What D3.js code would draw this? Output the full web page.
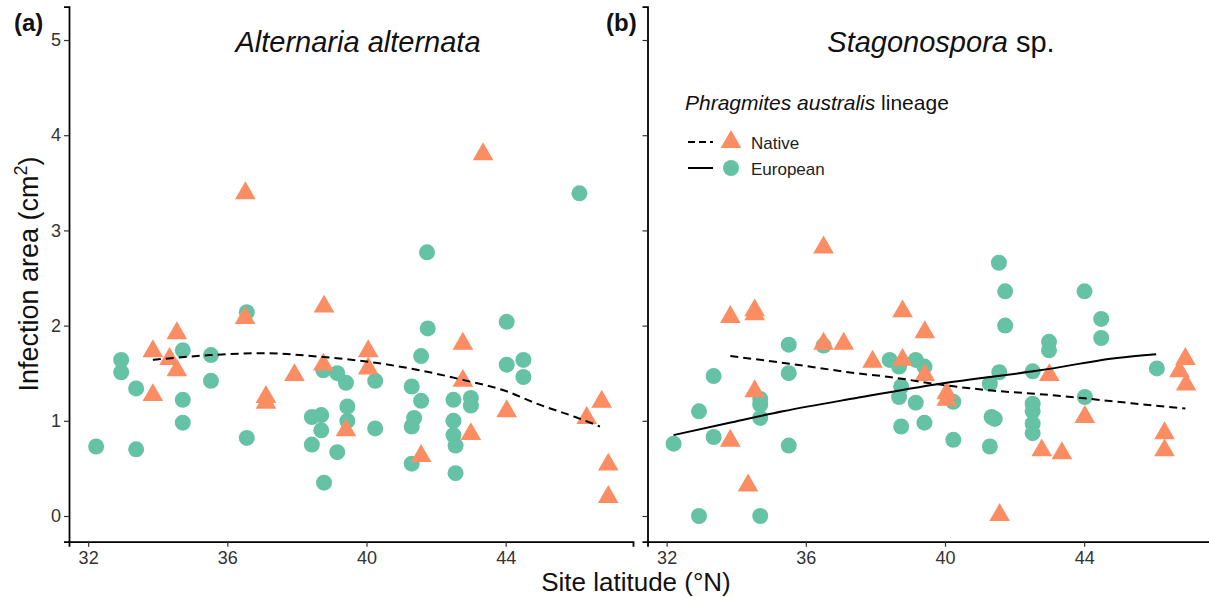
<!DOCTYPE html>
<html lang="en">
<head>
<meta charset="UTF-8">
<title>Infection area by site latitude</title>
<script src="https://cdn.jsdelivr.net/npm/d3@7/dist/d3.min.js"></script>
<style>
  body { margin: 0; background: #fff; }
  svg { display: block; font-family: "Liberation Sans", Arial, sans-serif; }
</style>
</head>
<body>
<div id="grafica"></div>
<script>
// values: [latitude, infection area cm2]
const latTicks = [32, 36, 40, 44]
const areaTicks = [0, 1, 2, 3, 4, 5]
const panelLetters = ['(a)', '(b)']
const panelTitles = [['Alternaria alternata', ''], ['Stagonospora', ' sp.']]
const legendLabels = ['Native', 'European']

const alternariaEuropean = [
  [32.23,0.73],[32.95,1.64],[32.95,1.51],[33.38,1.34],[33.38,0.70],[34.72,1.74],[34.72,1.22],[34.72,0.98],
  [35.53,1.69],[35.53,1.42],[36.56,2.14],[36.56,0.82],[38.43,1.04],[38.70,1.06],[38.70,0.90],[38.43,0.75],
  [38.78,0.35],[38.76,1.53],[39.16,1.50],[39.41,1.40],[39.45,1.15],[39.45,1.00],[39.16,0.67],[40.25,1.42],
  [40.25,0.92],[41.30,1.36],[41.37,1.03],[41.30,0.94],[41.57,1.21],[41.57,1.68],[41.76,1.97],[41.74,2.77],
  [41.30,0.55],[42.50,1.22],[42.50,1.00],[42.50,0.85],[42.56,0.74],[42.56,0.45],[43.00,1.24],[43.00,1.16],
  [44.03,2.04],[44.03,1.59],[44.51,1.64],[44.51,1.46],[46.12,3.39]
]
const alternariaNative = [
  [33.86,1.73],[33.86,1.27],[34.55,1.92],[34.34,1.65],[34.55,1.53],[36.51,2.08],[36.52,3.39],[37.11,1.25],
  [37.11,1.19],[37.93,1.48],[38.78,2.20],[38.76,1.59],[39.41,0.90],[40.05,1.73],[40.05,1.55],[41.57,0.63],
  [42.77,1.81],[42.77,1.42],[43.00,0.86],[43.35,3.80],[44.03,1.10],[46.33,1.03],[46.76,1.20],[46.95,0.54],
  [46.95,0.20]
]
const alternariaNativeFit = [
  [33.86,1.64],[35.50,1.69],[36.94,1.71],[38.76,1.67],[40.05,1.62],[41.54,1.53],[42.77,1.43],[44.03,1.31],
  [44.89,1.18],[46.00,1.04],[46.71,0.94]
]

const stagonosporaEuropean = [
  [32.20,0.76],[32.93,1.10],[33.35,1.47],[33.35,0.83],[32.93,0.00],[34.69,1.23],[34.69,1.17],[34.69,1.03],
  [34.69,0.00],[35.51,1.80],[35.51,1.50],[35.51,0.74],[36.51,1.79],[38.41,1.64],[38.68,1.57],[39.16,1.64],
  [39.41,1.57],[38.74,1.36],[38.68,1.25],[39.16,1.19],[38.74,0.94],[39.41,0.98],[40.24,1.20],[40.24,0.80],
  [41.56,1.51],[41.29,1.39],[41.34,1.04],[41.43,1.02],[41.29,0.73],[41.55,2.66],[41.73,2.36],[41.73,2.00],
  [42.52,1.52],[42.52,1.18],[42.52,1.10],[42.52,0.97],[42.52,0.87],[42.99,1.83],[42.99,1.74],[44.01,2.36],
  [44.49,2.07],[44.49,1.87],[44.02,1.25],[46.09,1.55]
]
const stagonosporaNative = [
  [33.83,2.09],[34.53,2.16],[34.53,2.12],[34.53,1.31],[33.83,0.79],[34.34,0.32],[36.51,2.82],[36.51,1.81],
  [37.09,1.81],[37.92,1.62],[38.78,2.15],[38.78,1.64],[39.42,1.93],[39.42,1.48],[40.05,1.29],[40.05,1.22],
  [41.57,0.01],[43.00,1.48],[42.78,0.69],[43.36,0.66],[44.02,1.04],[46.31,0.87],[46.31,0.69],[46.91,1.65],
  [46.74,1.52],[46.93,1.38]
]
const stagonosporaNativeFit = [
  [33.83,1.68],[35.53,1.60],[37.45,1.50],[38.41,1.46],[39.86,1.38],[41.29,1.32],[42.73,1.28],[44.16,1.23],
  [44.96,1.20],[46.00,1.16],[46.91,1.13]
]
const stagonosporaEuropeanFit = [
  [32.20,0.85],[33.81,0.98],[35.34,1.10],[37.45,1.24],[39.86,1.39],[42.73,1.53],[44.94,1.66],[46.07,1.70]
]

const nativeColor = '#fc8d62'
const europeanColor = '#66c2a5'

const ancho = 1209, alto = 597
const svg = d3.select('#grafica').append('svg')
  .attr('width', ancho).attr('height', alto)

const x = d3.scaleLinear().domain([31.45, 47.66]).range([0, 564])
const y = d3.scaleLinear().domain([-0.27, 5.35]).range([541.7, 6.7])

const line = d3.line().x(d => x(d[0])).y(d => y(d[1])).curve(d3.curveMonotoneX)
const tri = d3.symbol().type(d3.symbolTriangle).size(185)

const panels = [
  {left: 69, native: alternariaNative, european: alternariaEuropean, fits: [[alternariaNativeFit, '8,5']], labels: true, titleX: 358},
  {left: 647.5, native: stagonosporaNative, european: stagonosporaEuropean,
   fits: [[stagonosporaNativeFit, '8,5'], [stagonosporaEuropeanFit, null]], labels: false, titleX: 941}
]

panels.forEach(function(p, i) {
  const g = svg.append('g').attr('transform', 'translate(' + p.left + ',0)')

  // axes
  const xa = g.append('g').attr('transform', 'translate(0,' + y(-0.27) + ')')
    .call(d3.axisBottom(x).tickValues(latTicks).tickSize(5).tickPadding(5))
  const ya = g.append('g')
    .call(d3.axisLeft(y).tickValues(areaTicks).tickSize(5).tickPadding(3).tickFormat(p.labels ? d3.format('d') : ''))
  ;[xa, ya].forEach(function(a) {
    a.select('.domain').attr('stroke', '#000').attr('stroke-width', 1.8)
    a.selectAll('.tick line').attr('stroke', '#333').attr('stroke-width', 1.2)
    a.selectAll('.tick text').attr('fill', '#333').style('font-size', '18px').style('font-family', 'Liberation Sans, Arial, sans-serif')
  })

  // points
  g.selectAll('circle.eu').data(p.european).enter().append('circle')
    .attr('class', 'eu')
    .attr('cx', d => x(d[0])).attr('cy', d => y(d[1])).attr('r', 8)
    .attr('fill', europeanColor)
  g.selectAll('path.na').data(p.native).enter().append('path')
    .attr('class', 'na')
    .attr('d', tri)
    .attr('transform', d => 'translate(' + x(d[0]) + ',' + y(d[1]) + ')')
    .attr('fill', nativeColor)

  // fitted lines
  p.fits.forEach(function(f) {
    g.append('path').datum(f[0])
      .attr('d', line).attr('fill', 'none')
      .attr('stroke', '#000').attr('stroke-width', 2)
      .attr('stroke-dasharray', f[1])
  })

  // titles
  const t = svg.append('text').attr('x', p.titleX).attr('y', 52)
    .attr('text-anchor', 'middle').style('font-size', '29px').attr('fill', '#111')
  t.append('tspan').style('font-style', 'italic').text(panelTitles[i][0])
  if (panelTitles[i][1]) t.append('tspan').text(panelTitles[i][1])

  svg.append('text').attr('x', i ? 606 : 14).attr('y', 31)
    .style('font-size', '24px').style('font-weight', 'bold').attr('fill', '#111')
    .text(panelLetters[i])
})

// axis titles
svg.append('text').attr('x', 636).attr('y', 591).attr('text-anchor', 'middle')
  .style('font-size', '26px').attr('fill', '#111').text('Site latitude (°N)')
const yt = svg.append('text').attr('transform', 'translate(38,274) rotate(-90)')
  .attr('text-anchor', 'middle').style('font-size', '27px').attr('fill', '#111')
yt.append('tspan').text('Infection area (cm')
yt.append('tspan').attr('dy', -11).style('font-size', '18px').text('2')
yt.append('tspan').attr('dy', 11).text(')')

// legend
const lg = svg.append('g')
const lt = lg.append('text').attr('x', 685).attr('y', 110).style('font-size', '21px').attr('fill', '#111')
lt.append('tspan').style('font-style', 'italic').text('Phragmites australis')
lt.append('tspan').text(' lineage')

const keys = [
  {label: legendLabels[0], yy: 142, dash: '7,4', mark: 'tri', color: nativeColor},
  {label: legendLabels[1], yy: 168, dash: null, mark: 'circle', color: europeanColor}
]
keys.forEach(function(k) {
  lg.append('line').attr('x1', 688).attr('x2', 713).attr('y1', k.yy).attr('y2', k.yy)
    .attr('stroke', '#000').attr('stroke-width', 2).attr('stroke-dasharray', k.dash)
  if (k.mark == 'tri') {
    lg.append('path').attr('d', tri).attr('transform', 'translate(731,' + k.yy + ')').attr('fill', k.color)
  } else {
    lg.append('circle').attr('cx', 731).attr('cy', k.yy).attr('r', 8).attr('fill', k.color)
  }
  lg.append('text').attr('x', 751).attr('y', k.yy + 7).style('font-size', '17px').attr('fill', '#222').text(k.label)
})
</script>
</body>
</html>
